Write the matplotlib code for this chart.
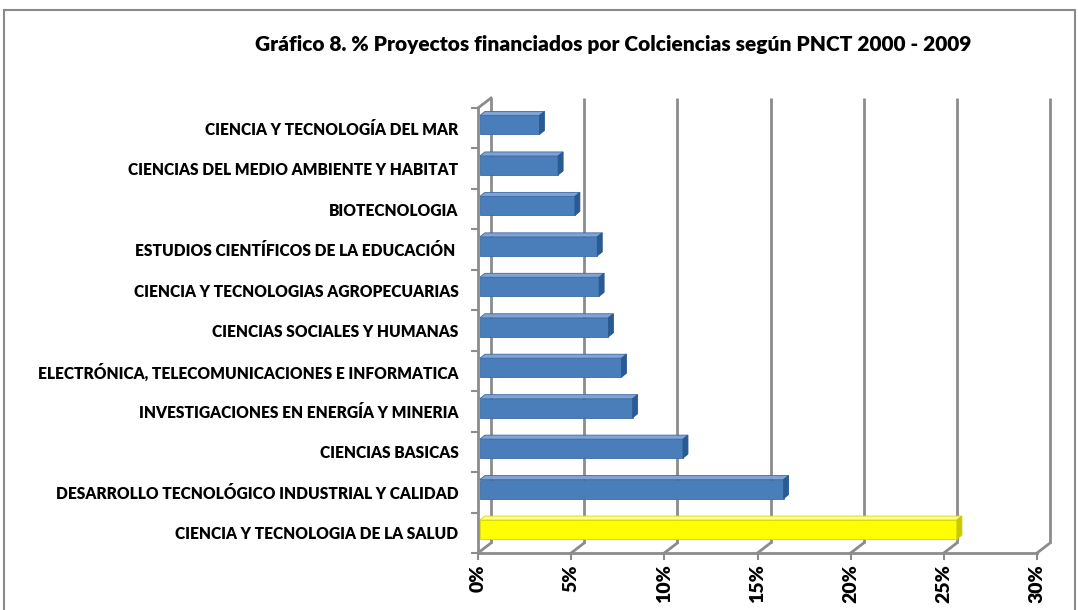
import numpy as np
import matplotlib
matplotlib.use('Agg')
import matplotlib.pyplot as plt
from matplotlib.patches import Polygon, Rectangle

plt.rcParams['font.family'] = ['Lato', 'DejaVu Sans']

# data (bottom to top, as drawn)
Categories = ['CIENCIA Y TECNOLOGIA DE LA SALUD',
              'DESARROLLO TECNOLÓGICO INDUSTRIAL Y CALIDAD',
              'CIENCIAS BASICAS',
              'INVESTIGACIONES EN ENERGÍA Y MINERIA',
              'ELECTRÓNICA, TELECOMUNICACIONES E INFORMATICA',
              'CIENCIAS SOCIALES Y HUMANAS',
              'CIENCIA Y TECNOLOGIAS AGROPECUARIAS',
              'ESTUDIOS CIENTÍFICOS DE LA EDUCACIÓN ',
              'BIOTECNOLOGIA',
              'CIENCIAS DEL MEDIO AMBIENTE Y HABITAT',
              'CIENCIA Y TECNOLOGÍA DEL MAR']
Values = [25.6, 16.3, 10.9, 8.2, 7.6, 6.9, 6.4, 6.3, 5.1, 4.2, 3.2]
XTicks = [0, 5, 10, 15, 20, 25, 30]
XTickLabels = ['0%', '5%', '10%', '15%', '20%', '25%', '30%']
Highlight = 'CIENCIA Y TECNOLOGIA DE LA SALUD'

Title = 'Gráfico 8. % Proyectos financiados por Colciencias según PNCT 2000 - 2009'

# colours
Blue = {'front': '#4A7EBB', 'top': '#7EA3D4', 'side': '#2A5A92', 'edge': '#3C6BA5'}
Yell = {'front': '#FFFF00', 'top': '#FFFF8C', 'side': '#C9C900', 'edge': '#D8D800'}
Grid = '#8C8C8C'
FW = 'heavy'

W, H = 1078, 610
fig = plt.figure(figsize=(W/100, H/100), dpi=100)

# frame round the chart
fig.patches.append(Rectangle((4/W, -0.05), (1075-4)/W, (H-10)/H + 0.05,
                             transform=fig.transFigure, fill=False,
                             ec='#8A8A8A', lw=1.5))

x0, x1 = 478, 1037
yb, yt = 553, 108
ax = fig.add_axes([x0/W, (H-yb)/H, (x1-x0)/W, (yb-yt)/H])
ax.set_xlim(0, 30)
ax.set_ylim(-0.5, len(Categories)-0.5)
for s in ax.spines.values():
    s.set_visible(False)

# back wall offset (in data units)
pxX = (x1-x0)/30.
pxY = (yb-yt)/len(Categories)
DXB, DYB = 13/pxX, 10/pxY
ytop = len(Categories) - 0.5

for t in XTicks:
    ax.plot([t+DXB, t+DXB], [-0.5+DYB, ytop+DYB], color=Grid, lw=2,
            clip_on=False, zorder=1, solid_capstyle='butt')
    ax.plot([t, t+DXB], [-0.5, -0.5+DYB], color=Grid, lw=2,
            clip_on=False, zorder=1)
# left wall front edge + top slant
ax.plot([0, 0], [-0.5, ytop], color=Grid, lw=2, clip_on=False, zorder=1)
ax.plot([0, DXB], [ytop, ytop+DYB], color=Grid, lw=2, clip_on=False, zorder=1)
# floor front edge
ax.plot([0, 30], [-0.5, -0.5], color=Grid, lw=2, clip_on=False, zorder=1)

# bars
BH = 0.47
YOff = 0.08
DXs, DYs = 5/pxX, 4/pxY
for k, (cat, v) in enumerate(zip(Categories, Values)):
    c = Yell if cat == Highlight else Blue
    y0 = k + YOff - BH/2
    y1 = k + YOff + BH/2
    ax.barh(k + YOff, v, height=BH, left=0.1, color=c['front'],
            edgecolor=c['edge'], lw=0.6, zorder=3)
    ax.add_patch(Polygon([[0.1, y1], [v+0.1, y1], [v+0.1+DXs, y1+DYs],
                          [0.1+DXs, y1+DYs]], closed=True,
                         fc=c['top'], ec=c['edge'], lw=0.6, zorder=3))
    ax.add_patch(Polygon([[v+0.1, y0], [v+0.1+DXs, y0+DYs],
                          [v+0.1+DXs, y1+DYs], [v+0.1, y1]], closed=True,
                         fc=c['side'], ec=c['side'], lw=0.6, zorder=3))

ax.set_xticks(XTicks)
ax.set_xticklabels(XTickLabels, rotation=90, fontsize=14, fontweight=FW)
ax.tick_params(axis='x', length=5, width=1.5, color=Grid, pad=3)

ax.set_yticks(range(len(Categories)))
ax.set_yticklabels(Categories, fontsize=11.2, fontweight=FW)
ax.set_yticks(np.arange(-0.5, len(Categories), 1.0), minor=True)
ax.tick_params(axis='y', which='major', length=0, pad=14)
ax.tick_params(axis='y', which='minor', length=5, width=1.5, color=Grid)

fig.text(613/W, 1-45/H, Title, ha='center', va='center',
         fontsize=15, fontweight=FW)

fig.savefig('out.png', dpi=100)
